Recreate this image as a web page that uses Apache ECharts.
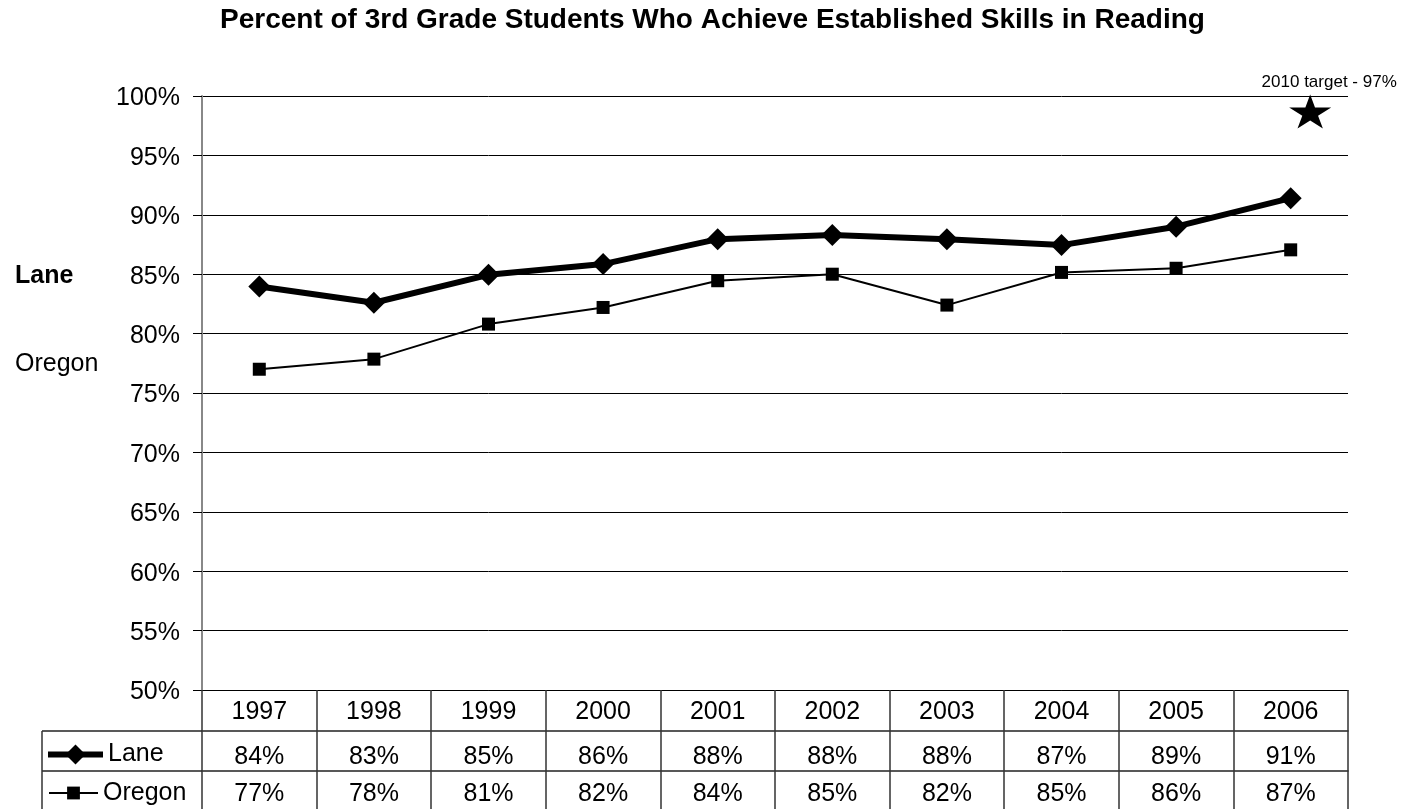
<!DOCTYPE html>
<html>
<head>
<meta charset="utf-8">
<title>3rd Grade Reading</title>
<script src="https://cdn.jsdelivr.net/npm/echarts@6.0.0/dist/echarts.min.js"></script>
<style>
  html, body { margin: 0; padding: 0; background: #fff; }
  #main { width: 1409px; height: 809px; }
</style>
</head>
<body>
<div id="main"></div>
<script>
// categories
const years = ['1997', '1998', '1999', '2000', '2001', '2002', '2003', '2004', '2005', '2006']
// percent achieving
const lane = [83.96, 82.6, 84.95, 85.85, 87.95, 88.3, 87.95, 87.45, 89.0, 91.4]
const oregon = [77.0, 77.85, 80.8, 82.2, 84.45, 85.0, 82.4, 85.15, 85.5, 87.05]
// star: [position along the year axis (0..10), percent]
const target = [9.67, 98.7]
const targetLabel = '2010 target - 97%'

const FONT = "'Liberation Sans', Arial, sans-serif"
const STAR = 'path://M50,0 L61,35 L98,35 L68,57 L79,91 L50,70 L21,91 L32,57 L2,35 L39,35 Z'

const pct = v => Math.round(v) + '%'
const laneLabels = lane.map(pct)
const oregonLabels = oregon.map(pct)

// rows of the data table under the plot, done as extra x axes
function tableAxis(offset, labels, margin) {
  return {
    type: 'category',
    position: 'bottom',
    offset: offset,
    data: years,
    axisLine: { show: true, lineStyle: { color: '#222', width: 1.5 } },
    axisTick: { show: false },
    splitLine: { show: false },
    axisLabel: {
      interval: 0,
      margin: margin,
      verticalAlign: 'middle',
      fontSize: 25,
      color: '#000',
      fontFamily: FONT,
      formatter: (v, i) => labels[i]
    }
  }
}

const chart = echarts.init(document.getElementById('main'))
chart.setOption({
  animation: false,
  backgroundColor: '#fff',
  textStyle: { fontFamily: FONT },
  title: {
    text: 'Percent of 3rd Grade Students Who Achieve Established Skills in Reading',
    left: 220,
    top: 6,
    padding: 0,
    textStyle: { fontSize: 28, fontWeight: 'bold', color: '#000', fontFamily: FONT }
  },
  legend: [{
    data: ['Lane'],
    left: 45,
    top: 742,
    padding: 0,
    itemWidth: 55,
    itemHeight: 25,
    selectedMode: false,
    lineStyle: { width: 6 },
    itemStyle: { borderWidth: 0 },
    textStyle: { fontSize: 25, color: '#000', fontFamily: FONT }
  }, {
    data: ['Oregon'],
    left: 48,
    top: 780.5,
    padding: 0,
    itemWidth: 49,
    itemHeight: 16,
    selectedMode: false,
    lineStyle: { width: 2 },
    itemStyle: { borderWidth: 0 },
    textStyle: { fontSize: 25, color: '#000', fontFamily: FONT }
  }],
  grid: { left: 202, right: 61, top: 96, bottom: 119, outerBoundsMode: 'none' },
  xAxis: [{
    type: 'category',
    data: years,
    axisLine: { show: true, lineStyle: { color: '#000', width: 1 } },
    axisTick: { show: true, interval: 0, length: 119, lineStyle: { color: '#333', width: 1.5 } },
    axisLabel: { interval: 0, margin: 22, verticalAlign: 'middle', fontSize: 25, color: '#000', fontFamily: FONT }
  },
  tableAxis(41, laneLabels, 26),
  tableAxis(81, oregonLabels, 23),
  {
    type: 'value',
    min: 0,
    max: 10,
    show: false
  }],
  yAxis: {
    type: 'value',
    min: 50,
    max: 100,
    interval: 5,
    axisLine: { show: true, lineStyle: { color: '#888', width: 2 } },
    axisTick: { show: true, length: 9, lineStyle: { color: '#000' } },
    axisLabel: {
      formatter: '{p|{value}%}',
      margin: 22,
      rich: { p: { fontSize: 25, color: '#000', fontFamily: FONT, padding: [5, 0, 0, 0] } }
    },
    splitLine: { show: true, lineStyle: { color: '#000', width: 1 } }
  },
  graphic: [
    { type: 'text', x: 15, y: 276, style: { text: 'Lane', font: 'bold 25px ' + FONT, fill: '#000', verticalAlign: 'middle' } },
    { type: 'text', x: 15, y: 364, style: { text: 'Oregon', font: '25px ' + FONT, fill: '#000', verticalAlign: 'middle' } },
    { type: 'line', shape: { x1: 42, y1: 731, x2: 202, y2: 731 }, style: { stroke: '#222', lineWidth: 1.5 } },
    { type: 'line', shape: { x1: 42, y1: 771, x2: 202, y2: 771 }, style: { stroke: '#222', lineWidth: 1.5 } },
    { type: 'line', shape: { x1: 42, y1: 731, x2: 42, y2: 809 }, style: { stroke: '#333', lineWidth: 1.5 } }
  ],
  series: [{
    name: 'Oregon',
    type: 'line',
    data: oregon,
    symbol: 'rect',
    symbolSize: 13,
    lineStyle: { color: '#000', width: 2 },
    itemStyle: { color: '#000' },
    z: 2
  }, {
    name: 'Lane',
    type: 'line',
    data: lane,
    symbol: 'diamond',
    symbolSize: 22,
    lineStyle: { color: '#000', width: 6 },
    itemStyle: { color: '#000' },
    z: 3
  }, {
    name: 'target',
    type: 'scatter',
    xAxisIndex: 3,
    data: [target],
    symbol: STAR,
    symbolSize: [42, 34],
    symbolKeepAspect: false,
    itemStyle: { color: '#000', opacity: 1 },
    label: {
      show: true,
      position: 'top',
      distance: 4,
      offset: [19, 0],
      formatter: targetLabel,
      fontSize: 17,
      color: '#000',
      fontFamily: FONT
    }
  }]
})
</script>
</body>
</html>
